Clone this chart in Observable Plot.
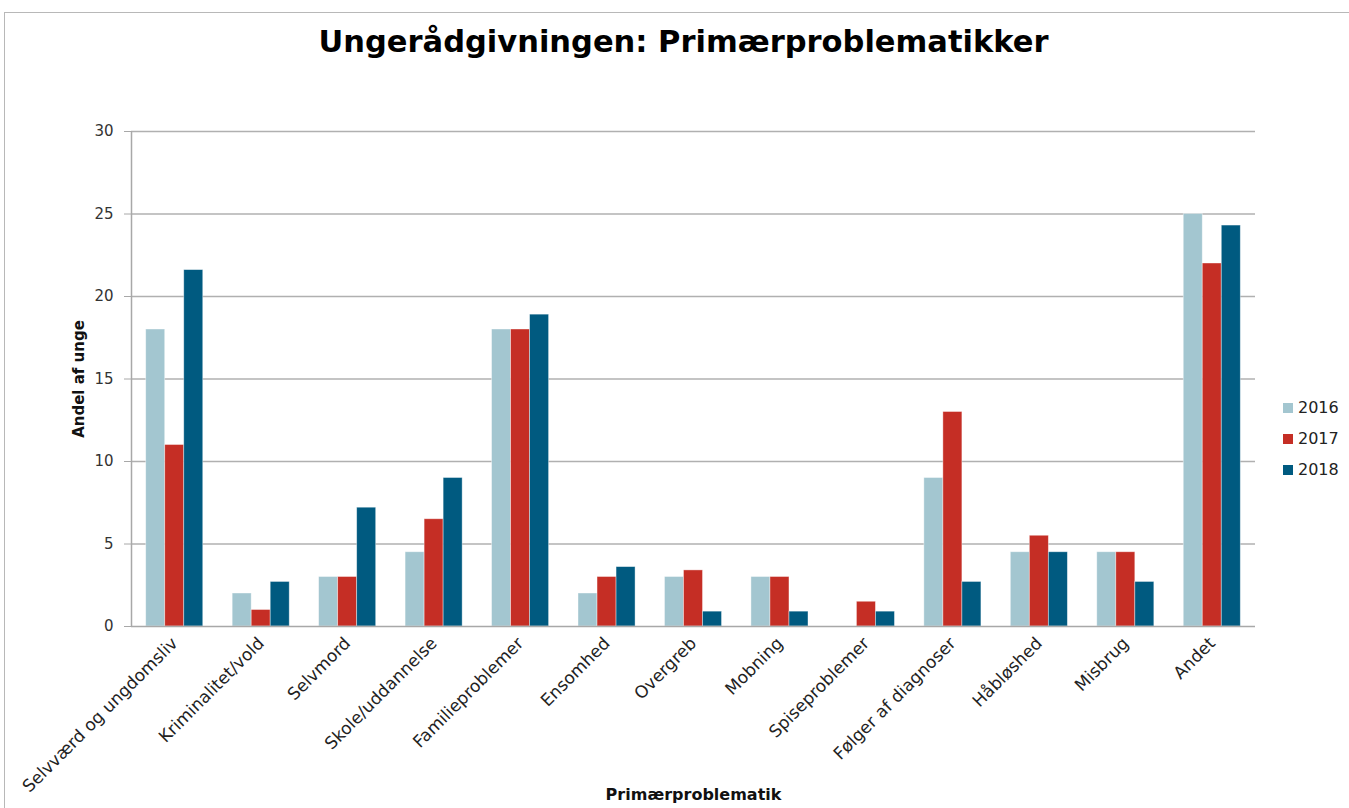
<!DOCTYPE html>
<html>
<head>
<meta charset="utf-8">
<script src="https://cdn.jsdelivr.net/npm/d3@7"></script>
<script src="https://cdn.jsdelivr.net/npm/@observablehq/plot@0.6"></script>
<style>
  html, body { margin: 0; padding: 0; background: #fff; }
  body { font-family: "DejaVu Sans", Verdana, sans-serif; }
  #wrap { position: relative; width: 1349px; height: 808px; overflow: hidden; }
  #frame { position: absolute; left: 4px; top: 12px; width: 1400px; height: 900px; border-left: 1px solid #b8b8b8; border-top: 1px solid #b8b8b8; }
  #title { position: absolute; left: 0; top: 24px; width: 1367px; text-align: center; font-size: 30.5px; font-weight: bold; color: #000; }
  #chart { position: absolute; left: 0; top: 90px; }
  #legend { position: absolute; left: 1283px; top: 392px; font-size: 16px; color: #222; }
  .li { display: flex; align-items: center; height: 31px; }
  .sw { width: 10px; height: 10px; margin-right: 5px; }
</style>
</head>
<body>
<div id="wrap">
  <div id="frame"></div>
  <div id="title">Ungerådgivningen: Primærproblematikker</div>
  <div id="chart"></div>
  <div id="legend"></div>
</div>
<script>
const categories = ["Selvværd og ungdomsliv", "Kriminalitet/vold", "Selvmord", "Skole/uddannelse", "Familieproblemer", "Ensomhed", "Overgreb", "Mobning", "Spiseproblemer", "Følger af diagnoser", "Håbløshed", "Misbrug", "Andet"];
const years = ["2016", "2017", "2018"];
const values2016 = [18, 2, 3, 4.5, 18, 2, 3, 3, 0, 9, 4.5, 4.5, 25];
const values2017 = [11, 1, 3, 6.5, 18, 3, 3.4, 3, 1.5, 13, 5.5, 4.5, 22];
const values2018 = [21.6, 2.7, 7.2, 9, 18.9, 3.6, 0.9, 0.9, 0.9, 2.7, 4.5, 2.7, 24.3];
const yTicks = [0, 5, 10, 15, 20, 25, 30];
const colors = ["#a3c6d0", "#c52e25", "#005a80"];

const series = [values2016, values2017, values2018];
const groupWidth = 0.66, barW = groupWidth / years.length, outer = (1 - groupWidth) / 2;
const rows = [];
categories.forEach((c, i) => {
  series.forEach((vals, j) => {
    rows.push({category: c, year: years[j], value: vals[i], x1: i + outer + j * barW, x2: i + outer + (j + 1) * barW});
  });
});

const chart = Plot.plot({
  width: 1349,
  height: 718,
  marginLeft: 131,
  marginRight: 94,
  marginTop: 41,
  marginBottom: 182,
  style: {fontFamily: "DejaVu Sans, Verdana, sans-serif", fontSize: "15px", color: "#333", background: "transparent"},
  x: {domain: [0, categories.length], axis: null},
  y: {domain: [0, 30], axis: null},
  color: {domain: years, range: colors},
  marks: [
    Plot.ruleY(yTicks.filter(d => d > 0), {stroke: "#b0b0b0", strokeWidth: 1.5}),
    Plot.rectY(rows, {x1: "x1", x2: "x2", y: "value", fill: "year", stroke: "#ffffff", strokeOpacity: 0.5, strokeWidth: 0.8}),
    Plot.ruleY([0], {stroke: "#a8a8a8", strokeWidth: 1.5}),
    Plot.ruleX([0], {stroke: "#a8a8a8", strokeWidth: 1.5}),
    Plot.axisY({ticks: yTicks, tickSize: 7, tickPadding: 11, stroke: "#a8a8a8", fill: "#333", fontSize: 15, label: null}),
    Plot.axisX({ticks: d3.range(categories.length).map(i => i + 0.5), tickFormat: d => categories[Math.floor(d)], tickSize: 0, tickPadding: 14, tickRotate: -45, fontSize: 17, fill: "#222", label: null}),
    Plot.text(["Andel af unge"], {frameAnchor: "left", textAnchor: "middle", dx: -52, rotate: -90, fontSize: 15, fontWeight: "bold", fill: "#111"}),
    Plot.text(["Primærproblematik"], {frameAnchor: "bottom", dy: 173, fontSize: 16, fontWeight: "bold", fill: "#111"})
  ]
});
document.getElementById("chart").appendChild(chart);

const legend = document.getElementById("legend");
years.forEach((y, j) => {
  const row = document.createElement("div");
  row.className = "li";
  row.innerHTML = `<div class="sw" style="background:${colors[j]}"></div><span>${y}</span>`;
  legend.appendChild(row);
});
</script>
</body>
</html>
